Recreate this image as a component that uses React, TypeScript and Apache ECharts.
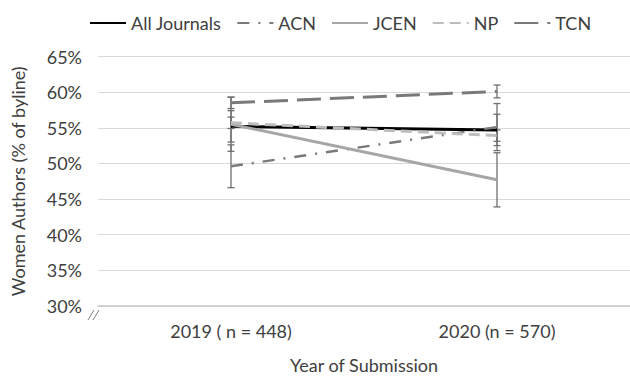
import React, { useEffect, useRef } from "react";
import * as echarts from "echarts";

const categories = ["2019 ( n = 448)", "2020 (n = 570)"];
const seriesNames = ["All Journals", "ACN", "JCEN", "NP", "TCN"];
const allJournals = [55.2, 54.7];
const acn = [49.6, 55.1];
const jcen = [55.5, 47.7];
const np = [55.7, 53.9];
const tcn = [58.5, 60.1];
const allErr = [2.2, 2.2];
const acnErr = [3.0, 3.3];
const jcenErr = [3.8, 3.8];
const npErr = [0.8, 0.8];
const tcnErr = [0.8, 0.9];
const yTicks = [30, 35, 40, 45, 50, 55, 60, 65];

const FONT = "Lato, 'Liberation Sans', sans-serif";
const TEXT = "#404040";

export default function App() {
  const ref = useRef<HTMLDivElement>(null);
  useEffect(() => {
    if (!ref.current) return;
    const chart = echarts.init(ref.current, undefined, { renderer: "svg" });
    const values = [allJournals, acn, jcen, np, tcn];
    const errs = [allErr, acnErr, jcenErr, npErr, tcnErr];
    const colors = ["#000000", "#7a7a7a", "#a6a6a6", "#bdbdbd", "#7a7a7a"];
    const dashes: any[] = ["solid", [12, 9, 2, 9], "solid", [11, 6], [24, 9]];
    const widths = [3, 2.5, 3, 3, 3];

    const errData: number[][] = [];
    values.forEach((vals, s) => {
      vals.forEach((v, i) => {
        errData.push([i, v - errs[s][i], v + errs[s][i]]);
      });
    });

    const lineSeries = seriesNames.map((name, s) => ({
      name,
      type: "line",
      data: values[s],
      symbol: "none",
      color: colors[s],
      lineStyle: { color: colors[s], width: widths[s], type: dashes[s] },
      z: 3,
    }));

    const option: any = {
      animation: false,
      textStyle: { fontFamily: FONT },
      legend: {
        data: seriesNames,
        left: 84,
        top: 9,
        itemWidth: 36,
        itemHeight: 14,
        itemGap: 15,
        itemStyle: { opacity: 0 },
        textStyle: { fontFamily: FONT, fontSize: 18, color: TEXT },
      },
      grid: { left: 98, top: 56.5, width: 540, height: 257 },
      xAxis: {
        type: "category",
        data: categories,
        boundaryGap: true,
        name: "Year of Submission",
        nameLocation: "middle",
        nameGap: 50,
        nameTextStyle: { fontFamily: FONT, fontSize: 18, color: TEXT },
        axisLine: { lineStyle: { color: "#c8c8c8", width: 1.5 } },
        axisTick: { show: false },
        axisLabel: { margin: 16, fontFamily: FONT, fontSize: 18, color: TEXT },
      },
      yAxis: {
        type: "value",
        min: yTicks[0],
        max: yTicks[yTicks.length - 1],
        interval: 5,
        name: "Women Authors (% of byline)",
        nameLocation: "middle",
        nameGap: 71,
        nameTextStyle: { fontFamily: FONT, fontSize: 18, color: TEXT },
        axisLine: { show: false },
        axisTick: { show: false },
        axisLabel: {
          margin: 16,
          formatter: "{value}%",
          fontFamily: FONT,
          fontSize: 18,
          color: TEXT,
        },
        splitLine: { lineStyle: { color: "#d9d9d9", width: 1 } },
      },
      series: [
        {
          type: "custom",
          name: "errors",
          data: errData,
          z: 2,
          renderItem: (params: any, api: any) => {
            const x = api.value(0);
            const lo = api.coord([x, api.value(1)]);
            const hi = api.coord([x, api.value(2)]);
            const hw = 3.5;
            const style = { stroke: "#6f6f6f", lineWidth: 1.3 };
            return {
              type: "group",
              children: [
                { type: "line", shape: { x1: hi[0], y1: hi[1], x2: lo[0], y2: lo[1] }, style },
                { type: "line", shape: { x1: hi[0] - hw, y1: hi[1], x2: hi[0] + hw, y2: hi[1] }, style },
                { type: "line", shape: { x1: lo[0] - hw, y1: lo[1], x2: lo[0] + hw, y2: lo[1] }, style },
              ],
            };
          },
        },
        ...lineSeries,
      ],
      graphic: [
        { type: "line", shape: { x1: 88, y1: 320, x2: 94, y2: 310 }, style: { stroke: "#808080", lineWidth: 1 } },
        { type: "line", shape: { x1: 93, y1: 320, x2: 99, y2: 310 }, style: { stroke: "#808080", lineWidth: 1 } },
      ],
    };
    chart.setOption(option);
    return () => chart.dispose();
  }, []);
  return (
    <div
      ref={ref}
      style={{ position: "fixed", left: 0, top: 0, width: 630, height: 379, background: "#fff" }}
    />
  );
}
